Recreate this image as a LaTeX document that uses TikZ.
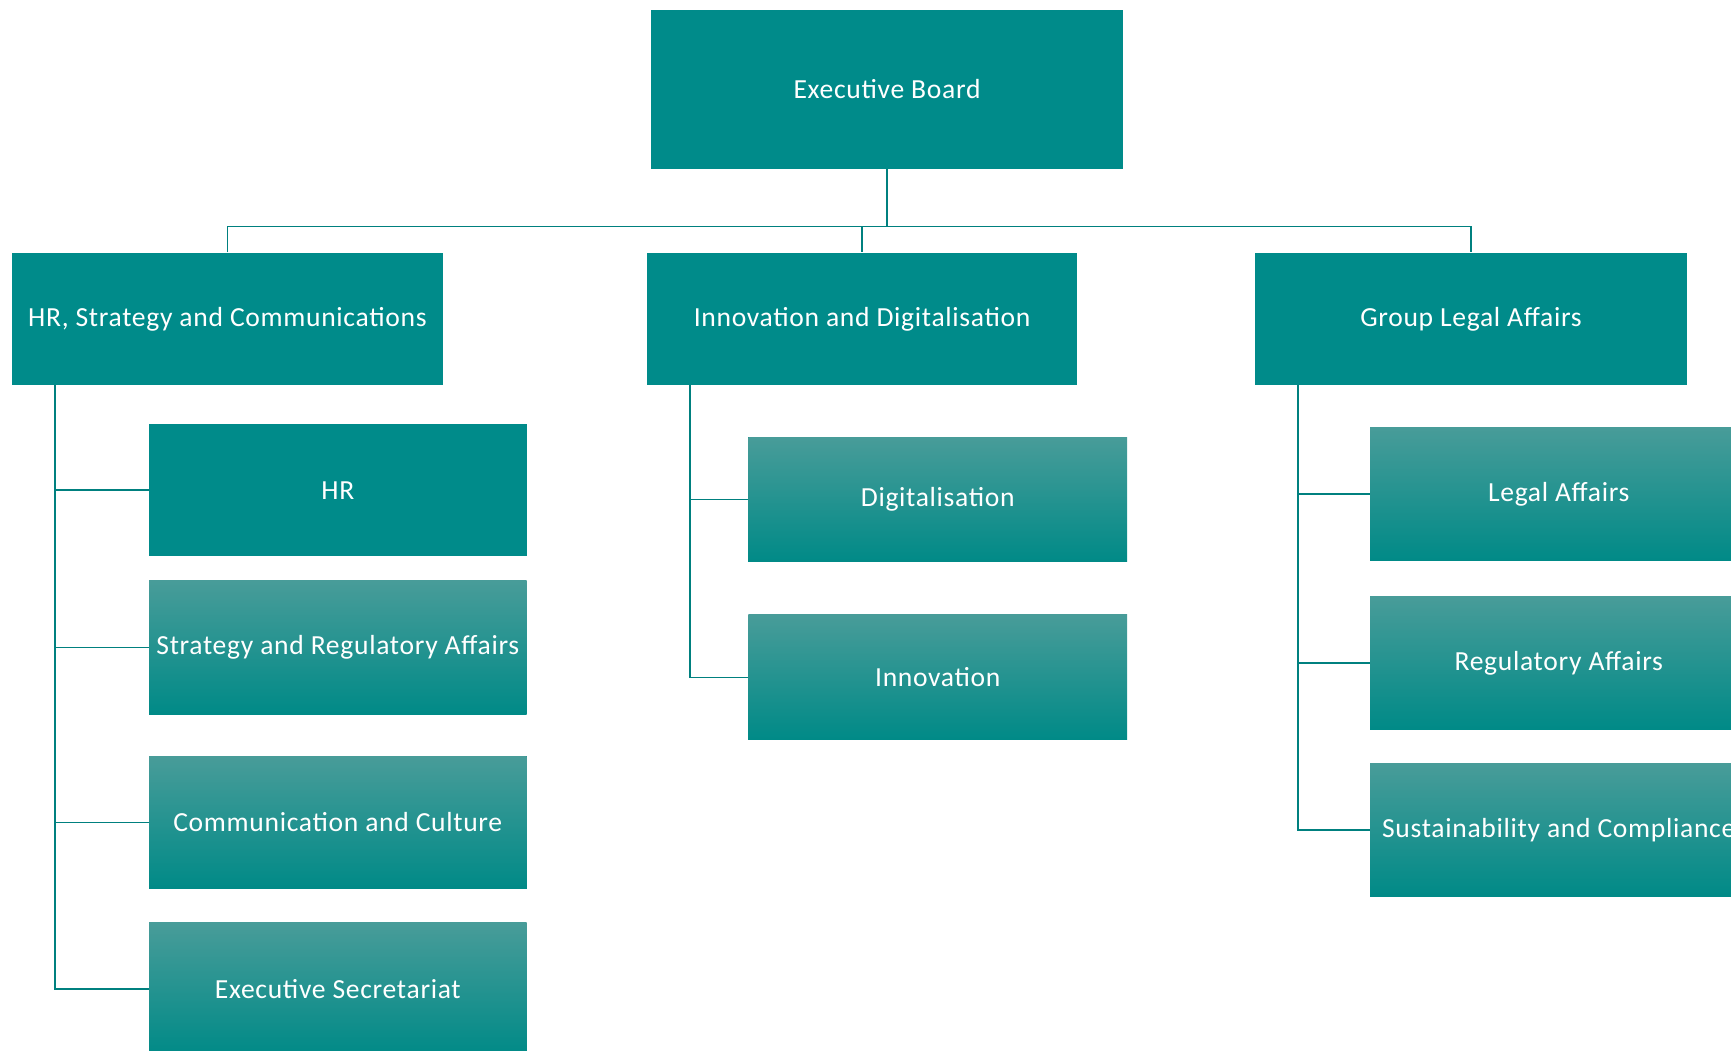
\documentclass[tikz,border=0pt]{standalone}
\usepackage{fontspec}
\setmainfont{Carlito}
\newfontfamily\boxfont[LetterSpace=2.5]{Carlito}
\definecolor{teal0}{RGB}{0,139,138}
\definecolor{gtop}{RGB}{72,156,153}
\definecolor{gmid}{RGB}{0,148,145}
\definecolor{gbot}{RGB}{0,138,135}
\definecolor{linec}{RGB}{0,128,127}
\begin{document}
\begin{tikzpicture}[x=0.5pt,y=-0.5pt,
  box/.style={draw=none,fill=teal0,text=white,font=\boxfont\fontsize{12.5}{15}\selectfont,inner sep=0pt,align=center},
  gbox/.style={box,top color=gtop,middle color=gmid,bottom color=gbot},
  conn/.style={draw=linec,line width=0.7pt}]
\useasboundingbox (0,0) rectangle (1568,952);
\clip (0,0) rectangle (1568,952);
% top
\node[box,minimum width=213.5pt,minimum height=72pt] (eb) at (803.5,81) {Executive Board};
% level 2
\node[box,minimum width=195pt,minimum height=60pt] (hsc) at (206,289) {HR, Strategy and Communications};
\node[box,minimum width=195pt,minimum height=60pt] (ind) at (781,289) {Innovation and Digitalisation};
\node[box,minimum width=195.5pt,minimum height=60pt] (gla) at (1332.5,289) {Group Legal Affairs};
% left children
\node[box,minimum width=171pt,minimum height=60pt] (hr) at (306,444) {HR};
\node[gbox,minimum width=171pt,minimum height=60.5pt] (sra) at (306,586.5) {Strategy and Regulatory Affairs};
\node[gbox,minimum width=171pt,minimum height=60pt] (cc) at (306,745) {Communication and Culture};
\node[gbox,minimum width=171pt,minimum height=60pt] (es) at (306,896) {Executive Secretariat};
% middle children
\node[gbox,minimum width=171.5pt,minimum height=56.5pt] (dig) at (849.5,452.5) {Digitalisation};
\node[gbox,minimum width=171.5pt,minimum height=56.5pt] (inn) at (849.5,613.5) {Innovation};
% right children
\node[gbox,minimum width=171pt,minimum height=60.5pt] (la) at (1412,447.5) {Legal Affairs};
\node[gbox,minimum width=171pt,minimum height=60pt] (ra) at (1412,600.5) {Regulatory Affairs};
\node[gbox,minimum width=171pt,minimum height=60pt] (sc) at (1412,752) {Sustainability and Compliance};
% connectors
\coordinate (bus) at (803.5,205);
\draw[conn] (eb.south) -- (bus);
\draw[conn] (hsc.north) |- (bus) -| (gla.north);
\draw[conn] (bus -| ind.north) -- (ind.north);
\coordinate (lt) at (50,349);
\coordinate (mt) at (625,349);
\coordinate (rt) at (1176,349);
\draw[conn] (lt) |- (es.west);
\draw[conn] (lt |- hr.west) -- (hr.west);
\draw[conn] (lt |- sra.west) -- (sra.west);
\draw[conn] (lt |- cc.west) -- (cc.west);
\draw[conn] (mt) |- (inn.west);
\draw[conn] (mt |- dig.west) -- (dig.west);
\draw[conn] (rt) |- (sc.west);
\draw[conn] (rt |- la.west) -- (la.west);
\draw[conn] (rt |- ra.west) -- (ra.west);
\end{tikzpicture}
\end{document}
